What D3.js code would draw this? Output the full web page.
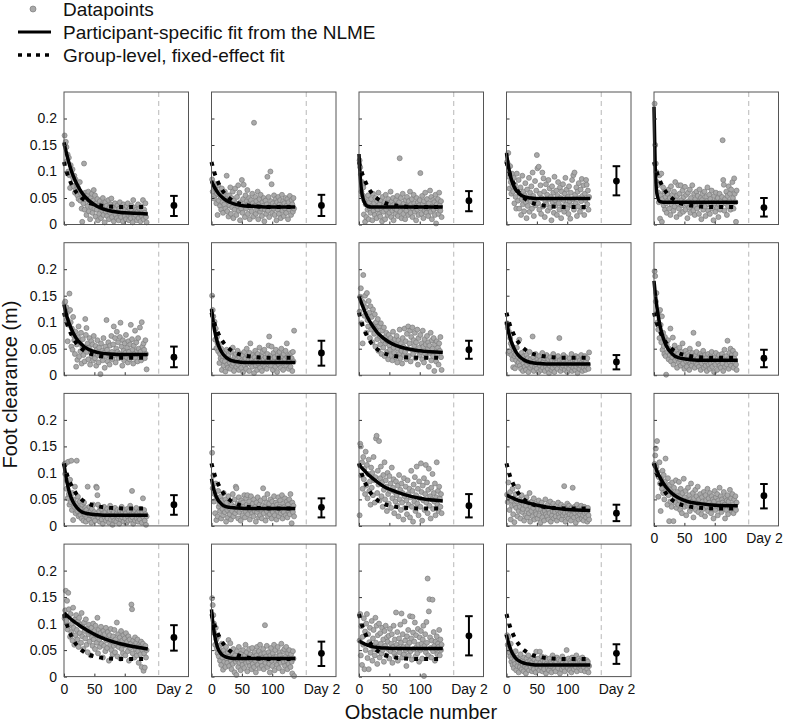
<!DOCTYPE html>
<html><head><meta charset="utf-8">
<script src="https://cdn.jsdelivr.net/npm/d3@7"></script>
<style>body{margin:0;background:#fff}svg{display:block}</style>
</head><body>
<svg id="c" width="787" height="724"></svg>
<script>
// ---------- data ----------
const yTicks = [0, 0.05, 0.1, 0.15, 0.2];
const yTickLabels = ["0", "0.05", "0.1", "0.15", "0.2"];
const xTicks = [0, 50, 100, 181];
const xTickLabels = ["0", "50", "100", "Day 2"];
const sessionBreak = 156;
const day2X = 181;
const legendLabels = ["Datapoints", "Participant-specific fit from the NLME", "Group-level, fixed-effect fit"];

// obstacle numbers at which the fitted curves were read
const fitX = [0, 2, 5, 10, 15, 20, 30, 40, 55, 75, 100, 138];
const groupFit = [0.118,0.109,0.097,0.082,0.070,0.061,0.049,0.042,0.037,0.034,0.033,0.033];
const participantFit = [
  [0.155,0.144,0.130,0.109,0.092,0.079,0.059,0.046,0.034,0.026,0.022,0.020],
  [0.082,0.077,0.070,0.061,0.054,0.049,0.042,0.038,0.035,0.034,0.033,0.033],
  [0.133,0.090,0.057,0.039,0.034,0.033,0.033,0.033,0.033,0.033,0.033,0.033],
  [0.135,0.118,0.099,0.078,0.066,0.059,0.052,0.050,0.049,0.049,0.049,0.049],
  [0.222,0.108,0.057,0.043,0.042,0.042,0.042,0.042,0.042,0.042,0.042,0.042],
  [0.133,0.123,0.110,0.093,0.080,0.070,0.057,0.049,0.043,0.040,0.039,0.039],
  [0.125,0.107,0.085,0.061,0.047,0.038,0.029,0.026,0.024,0.024,0.024,0.024],
  [0.149,0.142,0.133,0.119,0.107,0.097,0.081,0.070,0.059,0.051,0.046,0.043],
  [0.101,0.089,0.074,0.057,0.045,0.037,0.028,0.024,0.022,0.021,0.021,0.021],
  [0.178,0.155,0.127,0.093,0.071,0.056,0.040,0.033,0.030,0.028,0.028,0.028],
  [0.117,0.101,0.082,0.059,0.045,0.036,0.026,0.023,0.021,0.020,0.020,0.020],
  [0.089,0.077,0.064,0.050,0.043,0.038,0.035,0.034,0.033,0.033,0.033,0.033],
  [0.116,0.113,0.109,0.103,0.097,0.092,0.083,0.075,0.067,0.059,0.052,0.047],
  [0.058,0.057,0.055,0.053,0.050,0.048,0.045,0.042,0.038,0.034,0.031,0.029],
  [0.118,0.112,0.103,0.091,0.081,0.073,0.061,0.053,0.046,0.042,0.039,0.038],
  [0.120,0.118,0.115,0.110,0.105,0.101,0.093,0.086,0.077,0.068,0.060,0.052],
  [0.127,0.103,0.079,0.055,0.044,0.039,0.035,0.034,0.034,0.034,0.034,0.034],
  [0.068,0.066,0.064,0.061,0.059,0.057,0.055,0.054,0.053,0.053,0.053,0.053],
  [0.079,0.069,0.057,0.043,0.035,0.030,0.025,0.023,0.022,0.022,0.022,0.022]
];
const day2Mean = [0.036,0.036,0.045,0.082,0.032,0.034,0.042,0.048,0.025,0.032,0.040,0.035,0.038,0.024,0.057,0.074,0.044,0.077,0.044];
const day2Low  = [0.016,0.016,0.025,0.055,0.015,0.015,0.018,0.031,0.011,0.015,0.021,0.016,0.016,0.009,0.033,0.049,0.020,0.040,0.024];
const day2High = [0.054,0.056,0.063,0.110,0.050,0.054,0.065,0.065,0.038,0.048,0.058,0.052,0.060,0.040,0.079,0.097,0.066,0.114,0.061];

// foot clearance (mm) for obstacles 1..136, one array per participant
const points01 = [168,150,156,146,120,132,100,126,93,69, 112,95,38,104,88,72,92,60,85,66, 75,55,70,48,62,80,45,58,30,5, 52,40,115,28,60,47,18,55,35,62, 25,42,10,50,33,58,22,45,65,30, 55,15,40,28,48,8,36,20,44,32, 12,38,26,50,18,30,4,42,24,35, 16,28,46,10,32,22,38,49,14,26, 34,6,28,40,18,30,12,36,24,8, 30,42,20,14,34,26,6,38,22,16, 28,10,35,24,40,18,8,30,20,12, 36,26,4,46,22,14,32,18,28,8, 24,38,12,30,20,6,34,16,26,46, 10,28,22,40,14,4];
const points02 = [85,62,78,49,70,55,66,40,58,18, 74,45,60,35,52,28,68,42,22,56, 38,62,30,48,92,25,44,15,55,36, 70,20,50,32,62,12,45,28,68,40, 18,52,35,74,26,60,8,42,30,84, 22,48,75,36,14,55,30,44,65,20, 38,50,10,32,46,25,58,40,15,192, 35,52,20,44,28,62,10,38,48,24, 56,30,16,42,35,50,6,28,45,20, 38,90,26,52,14,34,100,44,76,22, 40,30,55,18,36,48,8,42,28,52, 20,38,46,12,34,56,26,44,16,40, 30,50,22,36,48,10,42,28,54,34, 18,46,38,24,50,30];
const points03 = [121,108,95,62,80,55,70,19,45,5, 38,14,52,28,55,10,42,30,22,48, 35,8,58,26,40,18,50,32,12,44, 28,60,20,38,15,46,30,6,52,24, 36,42,10,56,28,34,18,48,40,22, 32,62,14,44,26,50,8,38,30,20, 46,28,54,16,36,42,125,24,50,12, 34,58,20,40,30,10,46,26,52,36, 18,44,32,62,22,38,48,14,30,56, 40,24,34,8,50,28,42,18,36,46, 97,30,20,54,38,12,44,26,60,32, 22,48,36,16,40,30,64,24,52,10, 34,46,28,42,18,56,2,38,30,48, 20,60,36,26,44,14];
const points04 = [118,115,135,90,68,110,80,58,96,72, 62,88,40,75,52,30,96,66,45,84, 30,58,70,18,48,92,38,62,25,55, 78,42,12,66,35,50,88,24,60,44, 72,30,98,54,16,46,82,36,64,131, 106,40,109,28,58,74,20,50,98,34, 87,62,14,44,76,38,56,26,84,48, 68,32,52,8,72,42,60,22,90,46, 36,64,18,54,80,40,28,70,50,12, 62,34,76,46,24,58,88,38,66,30, 52,20,72,44,11,60,36,84,48,93, 28,98,56,40,70,16,62,34,78,50, 24,66,44,86,54,32,74,18,58,46, 84,75,38,64,28,52];
const points05 = [228,150,115,99,80,74,60,42,93,11, 55,96,5,48,70,36,62,28,52,40, 22,58,45,66,30,50,18,72,38,56, 44,26,62,34,80,48,14,54,40,74, 30,58,20,74,46,36,64,24,52,42, 71,28,56,38,12,60,44,32,66,22, 50,36,74,40,26,58,18,48,34,62, 30,54,42,20,66,38,50,10,46,58, 28,40,62,34,16,52,44,70,26,38, 56,20,48,36,64,30,42,8,54,40, 24,60,46,32,50,14,38,58,28,44, 36,52,159,84,75,26,48,40,62,18, 54,34,72,44,58,28,66,38,80,50, 30,87,58,42,5,64];
const points06 = [136,139,115,128,105,64,120,95,154,123, 100,54,88,48,110,75,66,40,82,16, 58,29,72,92,35,62,45,80,22,55, 68,38,50,26,106,76,89,44,60,30, 52,70,20,46,64,36,58,28,74,42, 32,55,18,48,66,38,24,52,40,2, 60,34,46,28,70,42,14,54,36,104, 48,26,62,40,20,56,34,74,44,30, 58,92,38,70,24,50,82,44,62,32, 40,72,99,36,54,18,66,46,28,60, 42,76,34,52,24,64,44,30,58,95, 36,68,48,22,56,40,84,32,62,46, 26,70,50,38,90,44,28,100,54,36, 60,48,32,66,40,11];
const points07 = [150,123,111,95,101,67,88,51,72,60, 45,58,23,40,32,50,10,28,36,18, 42,26,7,34,48,20,14,38,30,24, 12,44,28,18,52,22,8,36,26,40, 16,30,46,20,10,34,24,40,14,28, 38,6,26,44,18,32,12,50,22,36, 28,8,42,60,20,30,16,38,24,4, 34,46,18,28,10,40,22,32,52,14, 26,36,8,44,20,30,48,16,34,24, 12,40,28,56,73,22,36,18,54,30, 10,42,26,34,16,48,24,6,38,28, 20,44,32,14,50,26,36,10,40,22, 30,46,18,60,34,24,12,38,28,16, 42,32,8,44,26,84];
const points08 = [120,148,164,98,140,60,189,136,112,150, 128,80,155,104,92,140,118,70,130,86, 110,62,124,96,78,115,54,100,88,68, 106,46,92,74,58,98,40,84,66,52, 90,36,72,60,80,44,64,30,76,56, 48,70,38,62,28,82,52,42,68,34, 58,74,24,50,66,40,86,32,60,46, 22,70,54,38,88,44,64,30,78,50, 92,36,60,84,26,72,48,90,40,66, 56,80,32,62,46,86,20,70,52,38, 76,44,60,30,84,54,24,68,40,58, 34,74,48,62,16,56,42,80,28,66, 50,36,70,8,58,44,26,64,38,52, 20,60,46,72,34,10];
const points09 = [98,89,42,82,45,70,60,38,55,30, 15,48,36,13,40,28,52,20,34,24, 67,18,30,12,42,26,8,22,36,16, 28,10,38,20,32,6,24,44,14,30, 22,18,73,34,8,26,16,40,20,12, 30,24,6,36,18,28,10,22,42,14, 26,32,8,20,16,38,24,12,30,4, 18,34,22,10,28,14,40,20,6,26, 32,16,24,12,36,20,70,28,8,22, 14,30,18,38,26,10,22,34,16,6, 28,20,12,32,24,18,40,8,26,14, 22,30,10,36,16,26,4,20,34,12, 28,18,38,24,8,30,14,22,36,10, 26,16,32,20,12,43];
const points10 = [196,187,139,155,117,100,86,120,70,123, 95,62,111,48,80,55,40,72,36,1, 58,44,66,30,50,38,88,26,46,34, 71,20,42,56,28,36,48,14,32,40, 24,52,30,18,44,34,60,22,38,12, 30,46,26,16,40,28,36,10,50,22, 34,18,42,26,80,30,14,38,24,44, 20,32,59,16,28,40,10,36,22,30, 46,14,26,38,18,32,8,24,40,20, 28,12,36,22,44,16,30,26,6,34, 20,42,28,10,32,24,38,18,30,14, 26,40,22,8,34,48,16,28,36,20, 65,30,12,42,24,50,18,38,26,46, 14,32,24,40,20,10];
const points11 = [117,98,118,70,85,52,121,60,40,87, 45,123,30,62,11,50,36,74,24,42, 123,28,55,18,35,46,20,32,14,40, 26,10,44,22,34,8,30,16,74,24, 12,36,20,28,6,32,18,40,14,26, 10,22,74,72,58,40,16,28,8,34, 20,12,30,4,24,36,16,26,10,18, 32,14,22,6,28,38,12,20,30,2, 16,26,10,34,20,8,24,30,14,18, 4,28,22,12,36,16,26,8,20,30, 14,24,6,32,18,10,28,20,38,12, 22,66,16,4,26,30,10,20,34,14, 24,8,18,28,12,32,20,6,26,52, 16,30,10,22,2,18];
const points12 = [138,71,95,46,60,24,80,11,52,18, 66,36,42,28,55,14,48,32,20,62, 38,26,50,8,44,30,16,56,34,22, 46,12,40,28,60,18,36,50,24,74, 71,30,42,14,54,26,38,10,48,32, 20,44,36,58,16,28,52,40,58,22, 34,46,12,30,56,38,24,42,18,50, 28,36,8,44,26,54,32,16,40,20, 48,30,14,38,71,24,52,36,10,44, 28,60,18,34,42,22,50,30,14,46, 26,38,56,20,32,44,12,40,28,54, 18,36,48,24,30,58,14,42,26,36, 52,20,34,46,16,40,28,50,22,60, 32,5,44,26,38,18];
const points13 = [20,155,150,95,120,70,130,88,108,60, 140,76,115,52,98,125,66,84,40,110, 72,100,58,130,86,44,92,165,170,62, 104,78,160,48,90,112,56,82,36,96, 68,120,50,86,74,28,100,60,42,94, 66,80,34,110,52,72,88,24,64,46, 84,58,38,76,18,96,50,68,30,80, 44,62,12,90,56,34,74,48,22,86, 60,40,70,16,54,104,36,66,8,78, 46,92,28,58,112,42,70,20,84,52, 36,118,64,10,76,48,90,30,60,115, 44,82,24,68,108,38,56,14,72,50, 98,32,62,46,80,20,54,120,40,66, 28,74,52,36,60,24];
const points14 = [59,45,82,55,30,64,12,48,38,70, 22,52,7,40,60,34,46,18,74,28, 50,36,14,44,58,26,32,40,10,48, 20,38,54,16,30,44,24,62,8,36, 28,46,18,34,52,12,40,26,22,42, 14,32,48,20,38,6,30,44,16,26, 36,10,28,50,22,34,18,40,12,30, 24,46,8,36,20,28,42,14,32,26, 18,38,10,30,44,22,16,34,26,40, 12,28,20,36,75,24,8,32,18,42, 26,14,38,22,30,10,34,20,72,28, 16,36,24,6,30,40,18,26,12,34, 22,28,38,14,30,20,10,36,24,32, 16,26,8,34,20,12];
const points15 = [117,133,146,111,160,101,55,92,120,80, 28,88,70,104,62,96,50,84,127,66, 74,40,90,58,9,78,46,68,36,82, 60,9,72,52,44,86,34,64,56,40, 83,48,30,70,58,24,62,44,89,36, 54,66,20,48,38,72,42,58,28,50, 80,34,46,62,16,52,40,68,30,56, 44,74,26,50,36,60,42,22,54,46, 32,64,40,18,58,48,36,70,28,52, 44,62,34,24,56,40,50,14,46,66, 30,54,38,60,20,48,42,72,32,56, 26,50,44,36,64,40,14,54,30,48, 58,22,46,38,68,34,52,28,60,40, 24,50,36,56,30,44];
const points16 = [110,125,162,105,143,89,158,127,96,75, 118,84,100,68,130,92,60,108,78,116, 88,70,104,56,111,82,98,64,120,76, 94,52,102,86,72,108,60,90,46,80, 98,66,84,40,92,74,58,100,70,86, 52,96,78,64,111,44,88,70,56,82, 94,62,76,36,86,58,80,48,92,68, 54,84,72,30,78,60,90,50,66,42, 76,58,88,46,70,62,102,38,80,56, 64,74,34,86,52,68,44,78,60,72, 40,82,58,66,48,76,30,70,54,62, 136,127,44,68,58,36,74,52,64,40, 70,48,26,60,56,42,66,18,50,62, 11,44,17,58,36,50];
const points17 = [148,135,116,100,82,60,92,70,53,44, 76,38,58,30,48,22,62,36,13,50, 28,42,18,56,34,26,46,69,20,38, 63,30,14,44,24,52,36,8,40,28, 3,48,32,18,56,26,38,12,44,30, 22,50,34,16,40,60,26,46,10,36, 28,52,20,42,32,14,54,24,38,18, 46,30,8,40,56,22,34,48,16,60, 28,42,20,36,52,14,44,97,26,38, 58,18,32,46,24,8,40,54,30,20, 44,36,60,12,50,28,38,22,56,32, 16,46,40,26,62,34,10,48,28,52, 20,38,56,30,14,44,24,50,36,18, 42,28,6,48,34,1];
const points18 = [68,118,40,95,22,75,60,110,14,85, 50,100,118,35,80,14,65,92,45,58, 105,30,72,88,52,40,111,64,96,24, 78,56,100,36,82,62,44,92,50,70, 28,86,58,96,40,74,66,52,77,34, 90,48,62,80,26,56,96,44,70,38, 121,60,84,30,54,72,46,98,64,119, 36,80,56,42,104,68,50,20,76,58, 88,40,64,114,48,72,32,113,83,52, 66,102,38,78,56,44,90,60,28,74, 50,86,62,34,70,96,1,58,80,46, 103,64,185,40,123,146,74,54,36,68, 145,48,84,58,30,66,52,76,42,62, 56,88,40,70,50,60];
const points19 = [78,60,75,53,45,38,62,28,34,22, 40,16,30,24,48,12,36,20,28,8, 32,18,42,26,14,30,22,10,36,20, 24,6,34,16,28,40,12,22,30,18, 26,10,36,20,14,32,24,8,47,28, 16,34,22,12,47,26,18,38,10,30, 20,14,28,36,6,24,32,16,22,12, 34,20,28,8,26,40,18,30,14,24, 10,28,36,20,16,32,24,6,30,22, 14,38,26,18,32,10,24,20,50,28, 16,34,22,12,30,26,8,36,20,28, 14,32,24,18,40,10,26,22,34,16, 30,20,12,28,36,24,18,32,10,26, 22,31,14,28,8,20];
const participantPoints = [points01,points02,points03,points04,points05,points06,points07,points08,points09,points10,
  points11,points12,points13,points14,points15,points16,points17,points18,points19];

// ---------- drawing ----------
const svg = d3.select("#c");
const FONT = "'Liberation Sans', Arial, Helvetica, sans-serif";
const W = 124.5, H = 132.5;
const colLeft = c => 64 + c * 147.5;
const rowTop = r => 92 + r * 150.7;
const ptFill = "#a9a9a9", ptStroke = "#7d7d7d";

const x = d3.scaleLinear().domain([0, 205]).range([0, W]);
const y = d3.scaleLinear().domain([0, 0.25]).range([H, 0]);
const fitLine = d3.line().x((d, k) => x(fitX[k])).y(d => y(d)).curve(d3.curveMonotoneX);

participantPoints.forEach((pts, i) => {
  const r = Math.floor(i / 5), c = i % 5;
  const g = svg.append("g").attr("transform", `translate(${colLeft(c)},${rowTop(r)})`);

  g.append("line")
    .attr("x1", x(sessionBreak)).attr("x2", x(sessionBreak))
    .attr("y1", 0).attr("y2", H)
    .attr("stroke", "#b8b8b8").attr("stroke-width", 1).attr("stroke-dasharray", "5,4");

  g.append("g").selectAll("circle").data(pts).join("circle")
    .attr("cx", (d, k) => x(k + 1)).attr("cy", d => y(d / 1000)).attr("r", 2.5)
    .attr("fill", ptFill).attr("stroke", ptStroke).attr("stroke-width", 0.7);

  g.append("path").attr("d", fitLine(participantFit[i]))
    .attr("fill", "none").attr("stroke", "#000").attr("stroke-width", 3.5);
  g.append("path").attr("d", fitLine(groupFit))
    .attr("fill", "none").attr("stroke", "#000").attr("stroke-width", 4)
    .attr("stroke-dasharray", "4,6");

  // day 2 error bar
  const ex = x(day2X);
  g.append("line").attr("x1", ex).attr("x2", ex).attr("y1", y(day2Low[i])).attr("y2", y(day2High[i]))
    .attr("stroke", "#000").attr("stroke-width", 2);
  [day2Low[i], day2High[i]].forEach(v => {
    g.append("line").attr("x1", ex - 3.8).attr("x2", ex + 3.8).attr("y1", y(v)).attr("y2", y(v))
      .attr("stroke", "#000").attr("stroke-width", 2);
  });
  g.append("circle").attr("cx", ex).attr("cy", y(day2Mean[i])).attr("r", 3.4).attr("fill", "#000");

  // axes
  const ya = d3.axisLeft(y).tickValues(yTicks).tickSizeInner(-3).tickSizeOuter(0).tickPadding(7)
    .tickFormat((d, k) => c === 0 ? yTickLabels[k] : "");
  const yg = g.append("g").call(ya);
  yg.select(".domain").remove();
  yg.selectAll("line").attr("stroke", "#333");
  yg.selectAll("text").attr("font-family", FONT).attr("font-size", 14).attr("fill", "#111");

  const showX = i >= 14;
  const xa = d3.axisBottom(x).tickValues(xTicks).tickSizeInner(-3).tickSizeOuter(0).tickPadding(7)
    .tickFormat((d, k) => showX ? xTickLabels[k] : "");
  const xg = g.append("g").attr("transform", `translate(0,${H})`).call(xa);
  xg.select(".domain").remove();
  xg.selectAll("line").attr("stroke", "#333").attr("opacity", (d) => d === day2X ? 0 : 1);
  xg.selectAll("text").attr("font-family", FONT).attr("font-size", 14).attr("fill", "#111");

  g.append("rect").attr("x", 0).attr("y", 0).attr("width", W).attr("height", H)
    .attr("fill", "none").attr("stroke", "#555").attr("stroke-width", 1);
});

// axis titles
svg.append("text").attr("x", 421).attr("y", 719).attr("text-anchor", "middle")
  .attr("font-family", FONT).attr("font-size", 20).attr("fill", "#111").text("Obstacle number");
svg.append("text").attr("transform", "translate(17,384.5) rotate(-90)").attr("text-anchor", "middle")
  .attr("font-family", FONT).attr("font-size", 20).attr("fill", "#111").text("Foot clearance (m)");

// legend
const lg = svg.append("g");
lg.append("circle").attr("cx", 33).attr("cy", 9).attr("r", 3).attr("fill", ptFill).attr("stroke", ptStroke).attr("stroke-width", 0.7);
lg.append("line").attr("x1", 18).attr("x2", 51).attr("y1", 32).attr("y2", 32).attr("stroke", "#000").attr("stroke-width", 3);
lg.append("line").attr("x1", 18).attr("x2", 51).attr("y1", 55).attr("y2", 55).attr("stroke", "#000").attr("stroke-width", 3.5).attr("stroke-dasharray", "4,5");
lg.selectAll("text.leg").data(legendLabels).join("text").attr("class", "leg")
  .attr("x", 63).attr("y", (d, k) => [16, 39, 62][k])
  .attr("font-family", FONT).attr("font-size", 19).attr("fill", "#111").text(d => d);
</script>
</body></html>
